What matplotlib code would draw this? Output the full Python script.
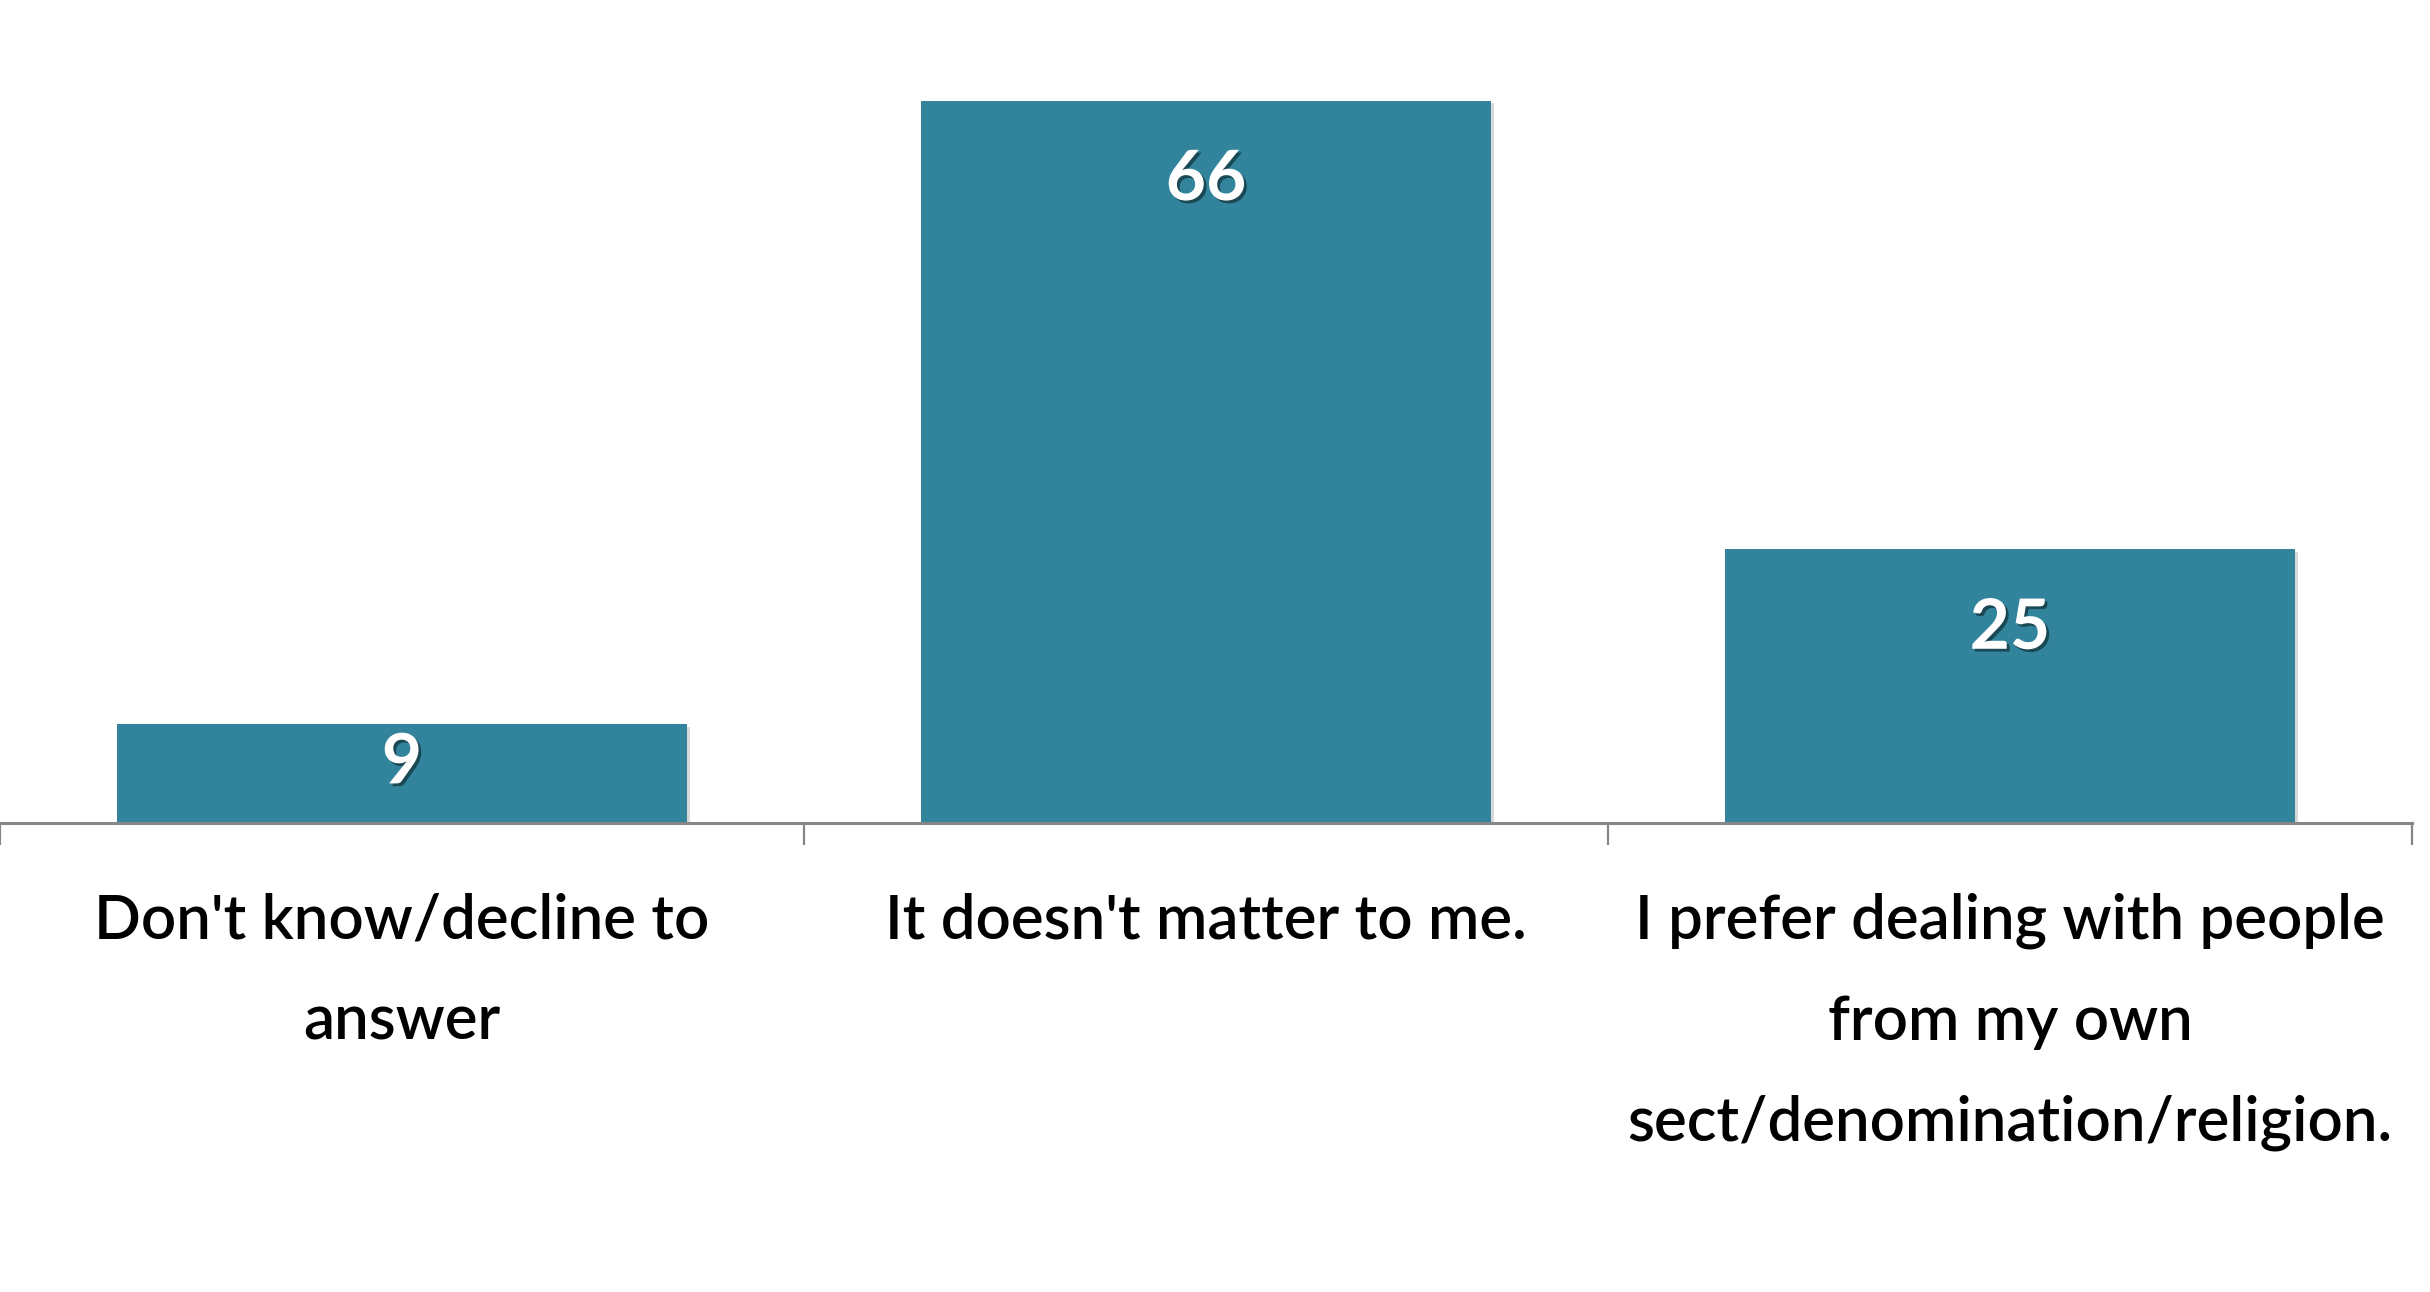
import matplotlib

matplotlib.use("Agg")
import matplotlib.pyplot as plt  # noqa: E402
import matplotlib.patheffects as pe  # noqa: E402
import numpy as np  # noqa: E402

plt.rcParams["font.family"] = ["Lato", "DejaVu Sans"]

categories = [
    "Don't know/decline to\nanswer",
    "It doesn't matter to me.",
    "I prefer dealing with people\nfrom my own\nsect/denomination/religion.",
]
values = [9, 66, 25]

BAR_COLOR = "#31849B"
AXIS_COLOR = "#868686"

fig = plt.figure(figsize=(24.3, 12.92), dpi=100)
ax = fig.add_axes([0.0, 0.363, 0.9926, 0.593])

positions = np.arange(len(categories))
bars = ax.bar(positions, values, width=0.71, color=BAR_COLOR, zorder=2)
for bar in bars:
    bar.set_path_effects([
        pe.SimplePatchShadow(offset=(2, -2), shadow_rgbFace="black", alpha=0.15),
        pe.Normal(),
    ])

ax.set_xlim(-0.5, len(categories) - 0.5)
ax.set_ylim(0, 70)

for side in ("left", "right", "top"):
    ax.spines[side].set_visible(False)
ax.spines["bottom"].set_color(AXIS_COLOR)
ax.spines["bottom"].set_linewidth(2.2)
ax.set_yticks([])

# ticks sit on the category boundaries
ax.set_xticks(np.arange(len(categories) + 1) - 0.5)
ax.set_xticklabels([])
ax.tick_params(axis="x", length=16, width=1.6, color=AXIS_COLOR, direction="out")

for pos, label in zip(positions, categories):
    ax.annotate(
        label,
        xy=(pos, 0),
        xycoords=("data", "axes fraction"),
        xytext=(0, -50),
        textcoords="offset points",
        ha="center",
        va="top",
        fontsize=44.5,
        fontweight="semibold",
        linespacing=1.97,
        color="black",
    )

shadow = [pe.SimplePatchShadow(offset=(2, -2), shadow_rgbFace="black", alpha=0.45), pe.Normal()]
for pos, value in zip(positions, values):
    y = max(value - 7.3, value * 0.6)
    ax.text(
        pos,
        y,
        str(value),
        ha="center",
        va="center",
        fontsize=50,
        fontweight="bold",
        color="white",
        path_effects=shadow,
        zorder=3,
    )

fig.savefig("out.png", dpi=100)
